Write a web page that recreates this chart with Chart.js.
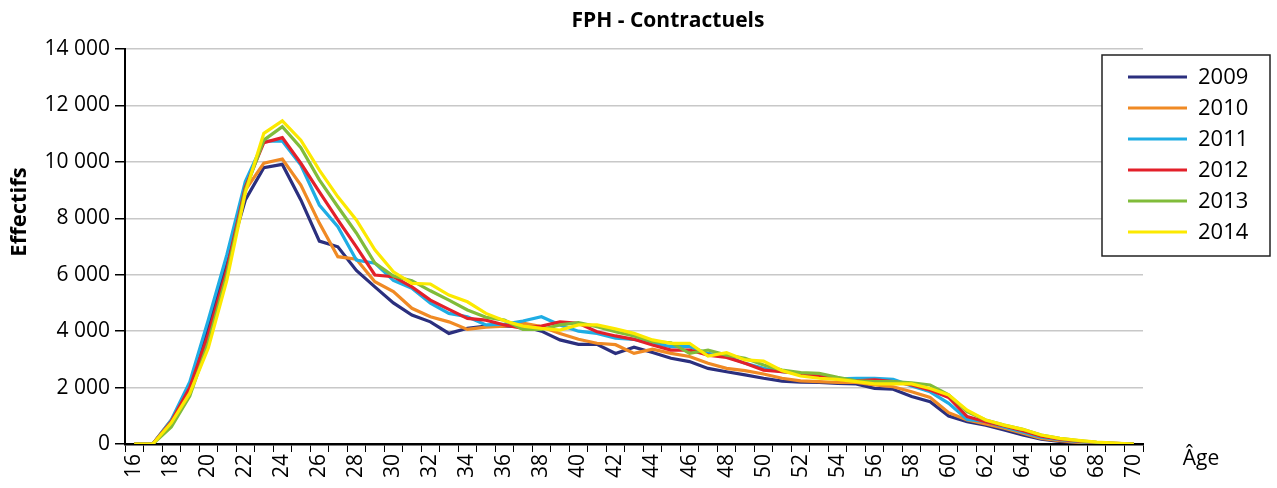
<!DOCTYPE html>
<html lang="fr">
<head>
<meta charset="utf-8">
<title>FPH - Contractuels</title>
<script src="https://cdn.jsdelivr.net/npm/chart.js@4.4.1/dist/chart.umd.min.js"></script>
<style>
    body { margin: 0; background: #fff; }
    #boite { width: 1277px; height: 488px; }
</style>
</head>
<body>
<div id="boite"><canvas id="courbes" width="1277" height="488"></canvas></div>
<script>
const titre = "FPH - Contractuels"
const titreY = "Effectifs"
const titreX = "Âge"

const ages = ["16", "17", "18", "19", "20", "21", "22", "23", "24", "25", "26", "27", "28", "29", "30",
    "31", "32", "33", "34", "35", "36", "37", "38", "39", "40", "41", "42", "43", "44", "45",
    "46", "47", "48", "49", "50", "51", "52", "53", "54", "55", "56", "57", "58", "59", "60",
    "61", "62", "63", "64", "65", "66", "67", "68", "69", "70"]

const annees = ["2009", "2010", "2011", "2012", "2013", "2014"]
const couleurs = ["#2b2f7e", "#f08a24", "#1fade4", "#e3202a", "#80bc3a", "#fce900"]

const eff2009 = [0, 0, 800, 2000, 4200, 6400, 8650, 9790, 9910, 8650,
    7190, 6990, 6150, 5570, 5000, 4570, 4330, 3920, 4100, 4180,
    4180, 4180, 4000, 3690, 3530, 3530, 3210, 3430, 3240, 3040,
    2920, 2680, 2560, 2450, 2330, 2230, 2190, 2180, 2150, 2130,
    1970, 1940, 1680, 1500, 990, 790, 670, 500, 320, 170,
    90, 40, 15, 5, 0]
const eff2010 = [0, 0, 850, 1900, 3700, 6100, 9000, 9950, 10100, 9180,
    7830, 6640, 6550, 5750, 5400, 4810, 4510, 4330, 4060, 4140,
    4180, 4280, 4160, 3920, 3710, 3570, 3520, 3210, 3360, 3210,
    3100, 2860, 2680, 2600, 2480, 2330, 2240, 2210, 2180, 2180,
    2090, 2030, 1850, 1650, 1110, 850, 710, 560, 380, 200,
    120, 60, 25, 10, 0]
const eff2011 = [0, 0, 850, 2200, 4400, 6700, 9300, 10730, 10740, 9890,
    8470, 7700, 6520, 6410, 5800, 5520, 4990, 4630, 4510, 4220,
    4250, 4360, 4510, 4220, 4000, 3920, 3750, 3710, 3570, 3450,
    3450, 3210, 3100, 2860, 2680, 2560, 2500, 2360, 2310, 2330,
    2330, 2290, 2060, 1850, 1440, 870, 800, 600, 430, 240,
    150, 80, 40, 15, 0]
const eff2012 = [0, 0, 800, 2000, 3900, 6200, 9100, 10680, 10860, 9950,
    8940, 7940, 6990, 5990, 5930, 5570, 5100, 4770, 4450, 4390,
    4220, 4100, 4180, 4330, 4280, 3980, 3830, 3710, 3510, 3330,
    3330, 3150, 3070, 2860, 2620, 2560, 2500, 2410, 2310, 2240,
    2270, 2210, 2090, 1910, 1650, 970, 790, 640, 470, 280,
    170, 100, 50, 20, 0]
const eff2013 = [0, 0, 600, 1700, 3600, 6000, 9000, 10770, 11250, 10500,
    9360, 8410, 7480, 6410, 5950, 5790, 5430, 5100, 4750, 4490,
    4390, 4060, 4060, 4220, 4300, 4160, 3980, 3830, 3630, 3590,
    3210, 3330, 3150, 3040, 2800, 2620, 2530, 2500, 2360, 2240,
    2210, 2210, 2170, 2090, 1740, 1150, 850, 670, 520, 320,
    200, 120, 60, 25, 0]
const eff2014 = [0, 0, 750, 1800, 3400, 5800, 8900, 11010, 11450, 10770,
    9710, 8760, 7940, 6880, 6100, 5690, 5670, 5280, 5040, 4630,
    4370, 4180, 4100, 4040, 4220, 4220, 4080, 3920, 3690, 3570,
    3570, 3120, 3240, 2980, 2940, 2600, 2410, 2330, 2290, 2210,
    2130, 2130, 2130, 1970, 1740, 1200, 850, 670, 520, 320,
    200, 130, 70, 30, 0]

const series = [eff2009, eff2010, eff2011, eff2012, eff2013, eff2014]

const police = "'Open Sans', 'Noto Sans', sans-serif"
Chart.defaults.font.family = police
Chart.defaults.font.size = 21
Chart.defaults.color = '#000'

// 14000 -> "14 000"
function milliers(v) {
    return String(v).replace(/\B(?=(\d{3})+(?!\d))/g, ' ')
}

// titre, titre de l'axe Y et libellé "Âge"
const textes = {
    id: 'textes',
    afterDraw(chart) {
        const c = chart.ctx
        const zone = chart.chartArea
        c.save()
        c.fillStyle = '#000'
        c.textAlign = 'center'
        c.textBaseline = 'middle'
        c.font = 'bold 21px ' + police
        c.fillText(titre, 668, 21)

        c.font = '21px ' + police
        c.fillText(titreX, zone.right + 58, zone.bottom + 15)

        c.translate(20, 212)
        c.rotate(-Math.PI / 2)
        c.font = 'bold 22px ' + police
        c.fillText(titreY, 0, 0)
        c.restore()
    }
}

// légende encadrée, posée sur le coin haut droit
const legende = {
    id: 'legende',
    afterDraw(chart) {
        const c = chart.ctx
        const x = 1102, y = 55, l = 168, h = 201
        c.save()
        c.fillStyle = '#fff'
        c.fillRect(x, y, l, h)
        c.strokeStyle = '#222'
        c.lineWidth = 1.5
        c.strokeRect(x, y, l, h)

        c.font = '22px ' + police
        c.textAlign = 'left'
        c.textBaseline = 'middle'
        chart.data.datasets.forEach((ds, i) => {
            const yy = 77 + i * 31
            c.strokeStyle = ds.borderColor
            c.lineWidth = 3
            c.beginPath()
            c.moveTo(1128, yy)
            c.lineTo(1187, yy)
            c.stroke()
            c.fillStyle = '#000'
            c.fillText(ds.label, 1198, yy + 1)
        })
        c.restore()
    }
}

const ctx = document.getElementById('courbes')

new Chart(ctx, {
    type: 'line',
    data: {
        labels: ages,
        datasets: annees.map((annee, i) => ({
            label: annee,
            data: series[i],
            borderColor: couleurs[i],
            backgroundColor: couleurs[i],
            borderWidth: 3.2,
            pointRadius: 0,
            tension: 0,
            order: annees.length - i
        }))
    },
    options: {
        responsive: false,
        animation: false,
        layout: {
            padding: { top: 49, right: 134, left: 0, bottom: 0 }
        },
        plugins: {
            legend: { display: false },
            title: { display: false },
            tooltip: { enabled: false }
        },
        scales: {
            x: {
                type: 'category',
                offset: true,
                grid: {
                    offset: true,
                    drawOnChartArea: false,
                    tickColor: '#000',
                    tickLength: 8,
                    tickWidth: 1
                },
                border: { color: '#000', width: 2.5 },
                ticks: {
                    autoSkip: false,
                    maxRotation: 90,
                    minRotation: 90,
                    padding: 2,
                    callback: function (val, index) {
                        return index % 2 === 0 ? this.getLabelForValue(val) : ''
                    }
                },
                afterFit: function (scale) { scale.height = 44 }
            },
            y: {
                min: 0,
                max: 14000,
                ticks: {
                    stepSize: 2000,
                    padding: 5,
                    callback: v => milliers(v)
                },
                grid: {
                    color: '#c8c8c8',
                    lineWidth: 1.5,
                    tickColor: '#000',
                    tickLength: 10
                },
                border: { color: '#000', width: 2 },
                afterFit: function (scale) { scale.width = 125 }
            }
        }
    },
    plugins: [textes, legende]
});
</script>
</body>
</html>
